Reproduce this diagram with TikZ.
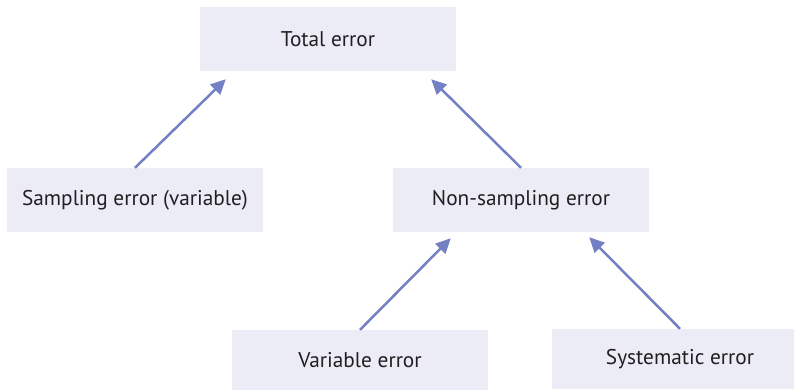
\documentclass[tikz,border=0pt]{standalone}
\usepackage{fontspec}
\setmainfont{PT Sans}
\usetikzlibrary{arrows.meta}
\definecolor{boxfill}{RGB}{236,236,247}
\definecolor{arrowblue}{RGB}{116,128,196}
\definecolor{textgrey}{RGB}{35,31,32}

\begin{document}
\begin{tikzpicture}[x=1pt,y=-1pt,
  errbox/.style={fill=boxfill, minimum width=256pt, minimum height=64pt, inner sep=0pt, text=textgrey, font=\fontsize{21.3}{24}\selectfont},
  link/.style={draw=arrowblue, line width=2.5pt, -{Triangle[length=15pt,width=14pt]}}]
\useasboundingbox (0,0) rectangle (794,390);
\node[errbox] (total) at (328,39) {Total error};
\node[errbox] (samp) at (135,200) {Sampling error (variable)};
\node[errbox] (nonsamp) at (521,200) {Non-sampling error};
\node[errbox, minimum height=60pt] (var) at (360,360) {Variable error};
\node[errbox, minimum height=60pt] (sys) at (680,359) {Systematic error};
\coordinate (t1) at ([xshift=26pt,yshift=-8pt]total.south west);
\coordinate (t2) at ([xshift=-25pt,yshift=-8pt]total.south east);
\coordinate (t3) at ([xshift=58pt,yshift=-6pt]nonsamp.south west);
\coordinate (t4) at ([xshift=-60pt,yshift=-5pt]nonsamp.south east);
\draw[link] (samp.north) -- (t1);
\draw[link] (nonsamp.north) -- (t2);
\draw[link] (var.north) -- (t3);
\draw[link] (sys.north) -- (t4);
\end{tikzpicture}
\end{document}
